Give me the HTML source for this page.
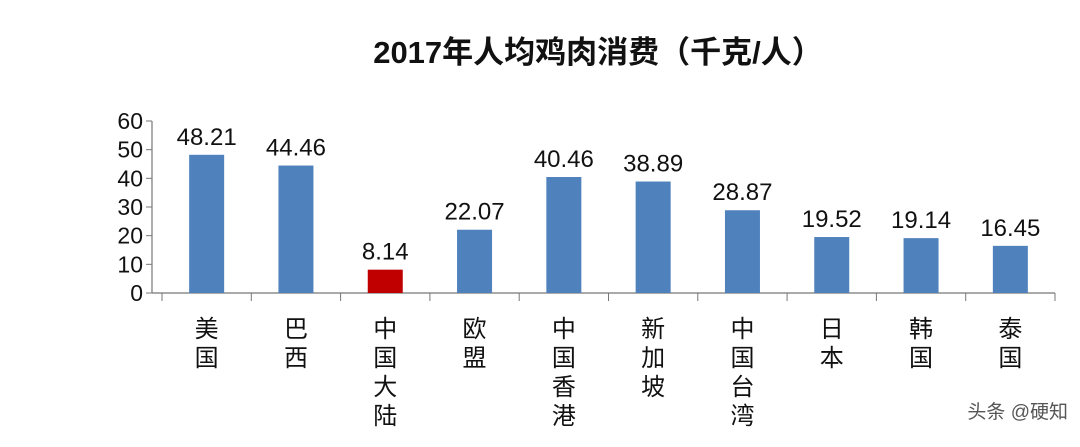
<!DOCTYPE html>
<html><head><meta charset="utf-8"><style>
body{margin:0;background:#fff;}
svg text{font-family:"Liberation Sans","Noto Sans CJK SC",sans-serif;}
</style></head><body>
<svg id="chart" width="1080" height="442" viewBox="0 0 1080 442">
<text x="598" y="63" text-anchor="middle" font-size="31" font-weight="bold" fill="#111">2017年人均鸡肉消费（千克/人）</text>
<g id="axes"></g><g id="bars"></g>
<text x="1068" y="418" text-anchor="end" font-size="19" fill="#555">头条 @硬知</text>
</svg>
<script>
const categories=["美国","巴西","中国大陆","欧盟","中国香港","新加坡","中国台湾","日本","韩国","泰国"];
const values=[48.21,44.46,8.14,22.07,40.46,38.89,28.87,19.52,19.14,16.45];
const highlight=[false,false,true,false,false,false,false,false,false,false];
const yTicks=[0,10,20,30,40,50,60];
const NS="http://www.w3.org/2000/svg";
const x0=162,x1=1055,y0=293,yTop=121,yMax=60;
const bw=(x1-x0)/categories.length;
const ys=v=>y0-(v/yMax)*(y0-yTop);
const xc=i=>x0+bw*(i+0.5);
function mk(t,a,p){const e=document.createElementNS(NS,t);for(const k in a)e.setAttribute(k,a[k]);p.appendChild(e);return e;}
const ax=document.getElementById('axes'),bg=document.getElementById('bars');
let l=mk('line',{x1:152,y1:yTop,x2:152,y2:y0,stroke:'#777','stroke-width':1.2},ax);


l=mk('line',{x1:152,y1:y0,x2:x1,y2:y0,stroke:'#777','stroke-width':1.2},ax);


yTicks.forEach(v=>{
 const t=mk('line',{x1:146,y1:ys(v),x2:152,y2:ys(v),stroke:'#777'},ax);
 
 
 const tx=mk('text',{x:143,y:ys(v)+8,'text-anchor':'end','font-size':23,fill:'#111'},ax);
 tx.textContent=v;
 
 
});
for(let i=0;i<=categories.length;i++){
 const t=mk('line',{x1:x0+bw*i,y1:y0,x2:x0+bw*i,y2:y0+8,stroke:'#777'},ax);
 
 
}
categories.forEach((c,i)=>{
 const r=mk('rect',{x:xc(i)-17.5,y:ys(values[i]),width:35,height:y0-ys(values[i]),fill:highlight[i]?'#c00000':'#4f81bd'},bg);
 
 
 const v=mk('text',{x:xc(i),y:ys(values[i])-10,'text-anchor':'middle','font-size':24,fill:'#111'},bg);
 v.textContent=values[i].toFixed(2);
 
 
 const g=mk('text',{'font-size':24,fill:'#111','text-anchor':'middle'},bg);
 
 
 [...c].forEach((ch,j)=>{const s=mk('tspan',{x:xc(i),y:337+j*29},g);s.textContent=ch;});
});
</script>
</body></html>
